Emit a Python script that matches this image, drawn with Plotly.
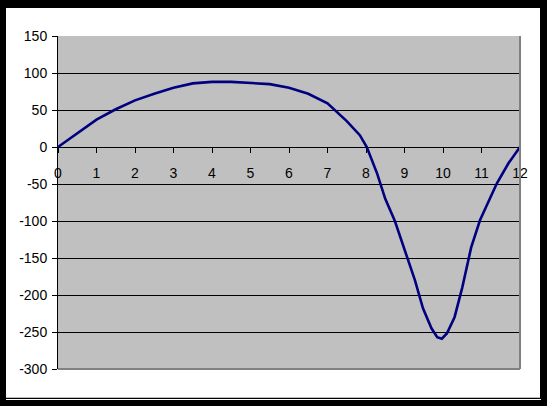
import plotly.graph_objects as go

x_vals = [0, 0.5, 1, 1.5, 2, 2.5, 3, 3.5, 4, 4.5, 5, 5.5, 6, 6.5, 7, 7.5, 7.84, 8.02,
          8.29, 8.5, 8.75, 9.05, 9.27, 9.48, 9.7, 9.85, 9.97, 10.1, 10.3, 10.5, 10.73,
          10.96, 11.4, 11.7, 12]
y_vals = [0, 18, 37, 51, 63, 72, 80, 86, 88, 88, 87, 85, 80, 72, 59, 35, 16, 0,
          -36, -70, -100, -145, -180, -218, -245, -257, -259, -252, -230, -190, -136,
          -99, -49, -22, 0]

x_ticks = list(range(0, 13))
y_ticks = list(range(-300, 151, 50))

W, H = 547, 406
L, R, T, B = 58, 27, 36, 37
PW, PH = W - L - R, H - T - B


def px(xp):
    return (xp - L) / PW


def py(yp):
    return (H - B - yp) / PH


fig = go.Figure()
fig.add_trace(go.Scatter(x=x_vals, y=y_vals, mode="lines",
                         line=dict(color="#000080", width=2.6), showlegend=False,
                         hoverinfo="skip"))

font = dict(family="Liberation Sans, Arial, sans-serif", size=14, color="black")

fig.update_layout(
    width=W, height=H,
    margin=dict(l=L, r=R, t=T, b=B),
    paper_bgcolor="white",
    plot_bgcolor="#C0C0C0",
    font=font,
    hovermode=False,
    xaxis=dict(range=[0, 12], tickvals=x_ticks, ticktext=[str(v) for v in x_ticks],
               showgrid=False, zeroline=False, showline=False,
               ticks="outside", ticklen=5, tickcolor="black", tickwidth=1,
               anchor="free", position=2 / 3, ticklabelstandoff=8,
               tickfont=font),
    yaxis=dict(range=[-300, 150], tickvals=y_ticks, ticktext=[str(v) for v in y_ticks],
               showgrid=True, gridcolor="black", gridwidth=1, zeroline=False,
               showline=True, linecolor="black", linewidth=1,
               ticks="outside", ticklen=5, tickcolor="black", tickwidth=1,
               ticklabelstandoff=2, tickfont=font),
)

shapes = []
# plot-area border (gray right and bottom)
shapes.append(dict(type="line", xref="paper", yref="paper", x0=0, x1=1, y0=0, y1=0,
                   line=dict(color="#808080", width=2), layer="above"))
shapes.append(dict(type="line", xref="paper", yref="paper", x0=1, x1=1, y0=0, y1=1,
                   line=dict(color="#808080", width=2), layer="above"))
# outer black frame
for (x0, x1, y0, y1) in [(0, 6, 0, H), (540, W, 0, H), (0, W, 0, 8), (0, W, 397.7, H)]:
    shapes.append(dict(type="rect", xref="paper", yref="paper",
                       x0=px(x0), x1=px(x1), y0=py(y1), y1=py(y0),
                       fillcolor="black", line=dict(width=0), layer="above"))
shapes.append(dict(type="line", xref="paper", yref="paper",
                   x0=px(6), x1=px(541), y0=py(399.5), y1=py(399.5),
                   line=dict(color="white", width=1), layer="above"))
fig.update_layout(shapes=shapes)

fig.write_html("out.html",
               config={"displayModeBar": False, "staticPlot": True},
               post_script="document.body.style.margin='0px';"
                           "document.body.style.overflow='hidden';")
